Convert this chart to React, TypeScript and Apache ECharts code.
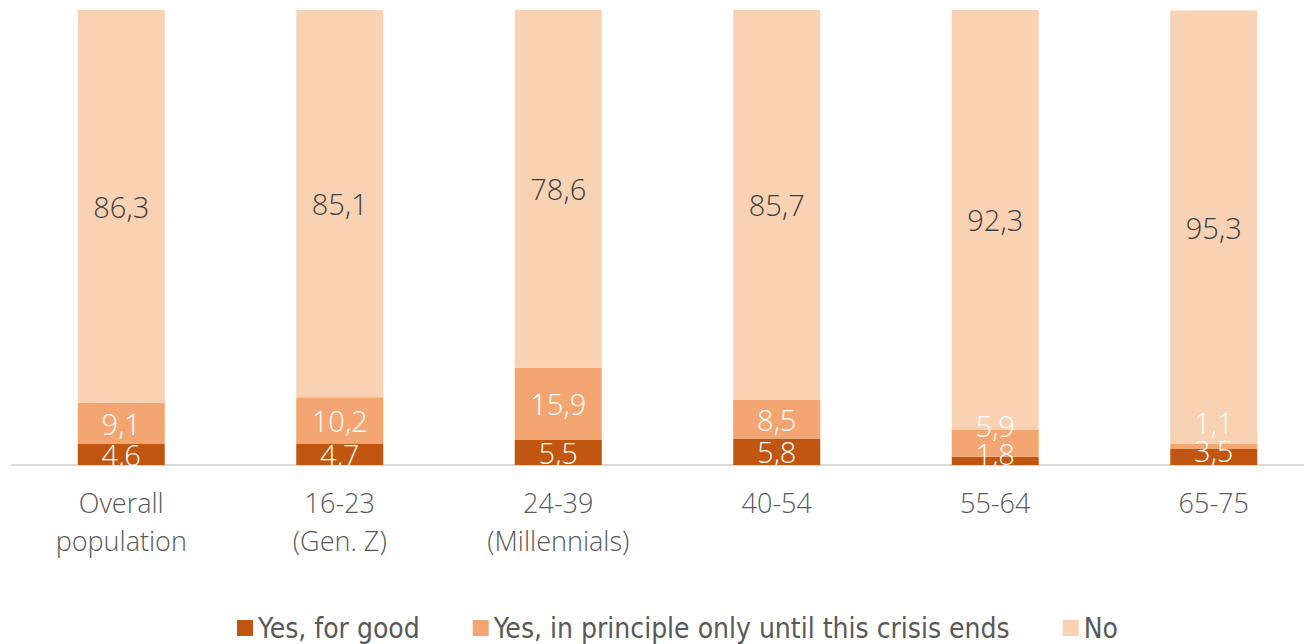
import React, { useEffect, useRef } from "react";
import * as echarts from "echarts";

const categories = ["Overall\npopulation", "16-23\n(Gen. Z)", "24-39\n(Millennials)", "40-54", "55-64", "65-75"];
const yesForGood = [4.6, 4.7, 5.5, 5.8, 1.8, 3.5];
const yesUntilCrisisEnds = [9.1, 10.2, 15.9, 8.5, 5.9, 1.1];
const no = [86.3, 85.1, 78.6, 85.7, 92.3, 95.3];
const seriesNames = ["Yes, for good", "Yes, in principle only until this crisis ends", "No"];

const colors = ["#C0560F", "#F3A672", "#F9D2B4"];
const FONT = "'Open Sans', 'DejaVu Sans', sans-serif";

// label nudges for crowded small segments (index -> px)
const darkOffsets: Record<number, number> = { 4: -7, 5: -7 };
const midOffsets: Record<number, number> = { 4: -18, 5: -24 };

const fmt = (v: number) => v.toFixed(1).replace(".", ",");

export default function App() {
  const ref = useRef<HTMLDivElement>(null);
  useEffect(() => {
    document.body.style.margin = "0";
    document.body.style.overflow = "hidden";
    const chart = echarts.init(ref.current!, null, { renderer: "svg" });
    const mk = (vals: number[], offs: Record<number, number>) =>
      vals.map((v, i) =>
        offs[i] !== undefined ? { value: v, label: { offset: [0, offs[i]] } } : { value: v }
      );
    const baseLabel = {
      show: true,
      position: "inside" as const,
      fontFamily: FONT,
      fontWeight: 300,
      fontSize: 29,
      formatter: (p: any) => fmt(p.value),
    };
    chart.setOption({
      animation: false,
      grid: { left: 12, top: 10, height: 455, width: 1311, containLabel: false },
      legend: {
        top: 609,
        left: 232,
        itemWidth: 16,
        itemHeight: 16,
        itemGap: 53,
        icon: "rect",
        textStyle: { fontFamily: "'Liberation Sans Narrow', 'DejaVu Sans Condensed', sans-serif", fontSize: 28, color: "#595959" },
        data: seriesNames,
      },
      xAxis: {
        type: "category",
        data: categories,
        axisLine: { lineStyle: { color: "#D9D9D9", width: 2 } },
        axisTick: { show: false },
        axisLabel: { color: "#595959", fontFamily: FONT, fontWeight: 300, fontSize: 27, lineHeight: 38, margin: 18 },
      },
      yAxis: { type: "value", min: 0, max: 100, show: false, splitLine: { show: false } },
      series: [
        {
          name: seriesNames[0], type: "bar", stack: "s", barWidth: 87,
          itemStyle: { color: colors[0] },
          label: { ...baseLabel, color: "#FFFFFF" },
          data: mk(yesForGood, darkOffsets),
          z: 2,
        },
        {
          name: seriesNames[1], type: "bar", stack: "s", barWidth: 87,
          itemStyle: { color: colors[1] },
          label: { ...baseLabel, color: "#FFFFFF" },
          data: mk(yesUntilCrisisEnds, midOffsets),
        },
        {
          name: seriesNames[2], type: "bar", stack: "s", barWidth: 87,
          itemStyle: { color: colors[2] },
          label: { ...baseLabel, color: "#404040" },
          data: mk(no, {}),
        },
      ],
    });
    return () => chart.dispose();
  }, []);
  return <div ref={ref} style={{ width: 1330, height: 644, position: "absolute", left: 0, top: 0, overflow: "hidden" }} />;
}
